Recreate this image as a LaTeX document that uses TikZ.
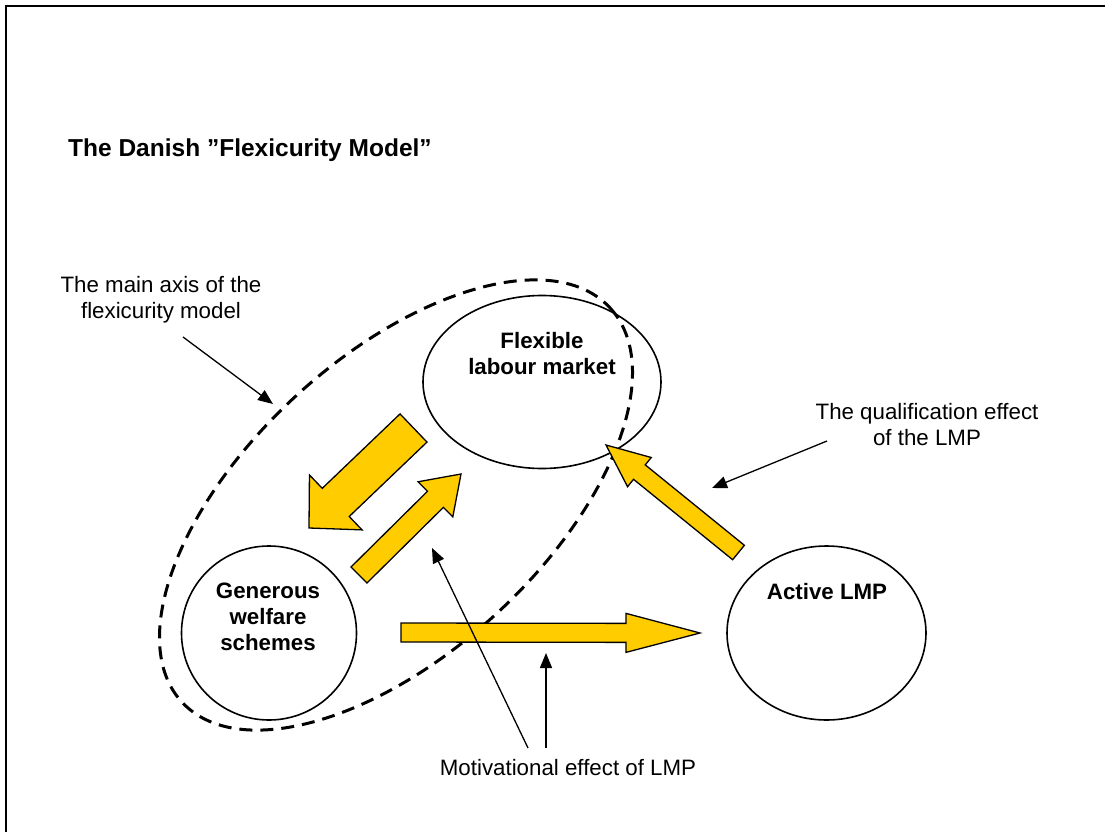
\documentclass[tikz,border=0pt]{standalone}
\usepackage{fontspec}
\setmainfont{Liberation Sans}
\usetikzlibrary{calc,arrows.meta,shapes.geometric}

\definecolor{flexgold}{HTML}{FFCC00}

\tikzset{
  bubble/.style={draw, ellipse, line width=1.6pt, inner sep=0pt},
  goldfill/.style={draw, fill=flexgold, line width=1.3pt, line join=miter},
  pointer/.style={line width=1.3pt, -{Triangle[length=15pt,width=12pt]}},
  plain/.style={font=\fontsize{22.3pt}{26pt}\selectfont, align=center, inner sep=0pt},
  heavy/.style={font=\fontsize{22.3pt}{26pt}\selectfont\bfseries, align=center, inner sep=0pt},
  headline/.style={font=\fontsize{24.5pt}{28pt}\selectfont\bfseries, inner sep=0pt},
  axisline/.style={line width=3pt, dash pattern=on 13pt off 8pt}
}

% tail, tip, half shaft, half head, head length
\newcommand{\goldarrow}[5]{%
  \coordinate (neck) at ($(#2)!#5!(#1)$);
  \draw[goldfill] ($(#1)!#3!90:(#2)$) -- ($(neck)!#3!-90:(#1)$) -- ($(neck)!#4!-90:(#1)$) -- (#2)
    -- ($(neck)!#4!90:(#1)$) -- ($(neck)!#3!90:(#1)$) -- ($(#1)!#3!-90:(#2)$) -- cycle;
}

\begin{document}
\begin{tikzpicture}[x=1pt, y=-1pt]
    \useasboundingbox (0,0) rectangle (1105,832);
    \draw[line width=2pt] (6,832) -- (6,6) -- (1105,6);
    \node[headline, anchor=base west] (title) at (68,156) {The Danish ”Flexicurity Model”};

    % the main axis
    \draw[axisline, shift={(396,505)}, rotate=42.6] (0,0) ellipse [x radius=291, y radius=148];

    \node[bubble, minimum width=238pt, minimum height=173pt] (flm) at (542,382) {};
    \node[heavy] (flmtext) at (542,353.5) {Flexible\\labour market};
    \node[bubble, minimum width=175pt, minimum height=174pt] (gws) at (269,633) {};
    \node[heavy] (gwstext) at (268,617) {Generous\\welfare\\schemes};
    \node[bubble, minimum width=199pt, minimum height=174pt] (almp) at (826.5,633) {};
    \node[heavy] (almptext) at (827,592) {Active LMP};

    % yellow arrows
    \coordinate (fw1) at (413.5,428);
    \coordinate (fw2) at (309,528);
    \goldarrow{fw1}{fw2}{19.5pt}{38pt}{37pt}
    \coordinate (wf1) at (359,575);
    \coordinate (wf2) at (461,474);
    \goldarrow{wf1}{wf2}{11.3pt}{24.7pt}{36pt}
    \coordinate (wa1) at (401,632.5);
    \coordinate (wa2) at (700,633);
    \goldarrow{wa1}{wa2}{9.5pt}{19.5pt}{74pt}
    \coordinate (af1) at (738.5,552.5);
    \coordinate (af2) at (606,445);
    \goldarrow{af1}{af2}{9.3pt}{18.8pt}{43pt}

    % notes
    \node[plain] (axisnote) at (161,300) {The main axis of the\\flexicurity model};
    \node[plain] (qualnote) at (927,424.5) {The qualification effect\\of the LMP};
    \node[plain, anchor=base] (motnote) at (568,775) {Motivational effect of LMP};

    \coordinate (axisfrom) at (183,337);
    \coordinate (axisto) at (273,404);
    \draw[pointer] (axisfrom) -- (axisto);
    \coordinate (qualfrom) at (827,441);
    \coordinate (qualto) at (712,488);
    \draw[pointer] (qualfrom) -- (qualto);
    \coordinate (motfrom1) at (528,748);
    \coordinate (motto1) at (432,548);
    \draw[pointer] (motfrom1) -- (motto1);
    \coordinate (motfrom2) at (546,748);
    \coordinate (motto2) at (546,653);
    \draw[pointer] (motfrom2) -- (motto2);
\end{tikzpicture}
\end{document}
